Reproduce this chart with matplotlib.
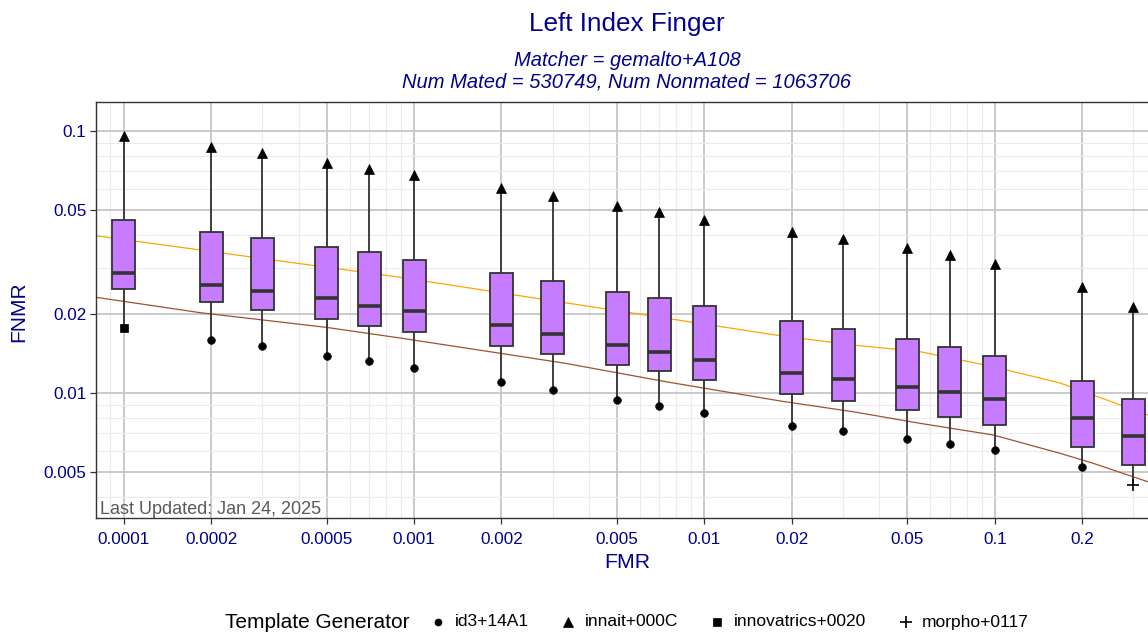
import numpy as np
import matplotlib
matplotlib.use("Agg")
import matplotlib.pyplot as plt
from matplotlib.patches import Rectangle
from matplotlib.lines import Line2D
from matplotlib.ticker import FixedLocator, NullFormatter, LogLocator

# ---------------- data ----------------
fmr = [0.0001, 0.0002, 0.0003, 0.0005, 0.0007, 0.001, 0.002, 0.003, 0.005,
       0.007, 0.01, 0.02, 0.03, 0.05, 0.07, 0.1, 0.2, 0.3]
fnmr_max = [0.0954, 0.0864, 0.0820, 0.0755, 0.0714, 0.0677, 0.0603, 0.0565, 0.0515,
            0.0488, 0.0457, 0.0412, 0.0385, 0.0356, 0.0334, 0.0309, 0.0254, 0.0213]
fnmr_q3 = [0.0457, 0.0412, 0.0391, 0.0361, 0.0344, 0.0322, 0.0286, 0.0268, 0.0242,
           0.0229, 0.0214, 0.0187, 0.0175, 0.0160, 0.0150, 0.0138, 0.0111, 0.00944]
fnmr_med = [0.0287, 0.0258, 0.0245, 0.0229, 0.0215, 0.0205, 0.0182, 0.0168, 0.0152,
            0.0143, 0.0133, 0.0119, 0.0113, 0.0105, 0.0101, 0.00946, 0.00798, 0.00685]
fnmr_q1 = [0.0249, 0.0221, 0.0207, 0.0191, 0.0180, 0.0171, 0.0151, 0.0141, 0.0128,
           0.0121, 0.0112, 0.00989, 0.00932, 0.00859, 0.00810, 0.00755, 0.00622, 0.00530]
fnmr_min = [0.01766, 0.0159, 0.0151, 0.0138, 0.0132, 0.0124, 0.0110, 0.0102, 0.00938,
            0.0089, 0.00834, 0.00746, 0.00714, 0.00666, 0.00637, 0.00604, 0.00522, 0.00444]
max_generator = ["innait+000C"] * 18
min_generator = ["innovatrics+0020"] + ["id3+14A1"] * 16 + ["morpho+0117"]

orange_fmr = [8.05e-5, 8.96e-4, 0.003316, 0.01822, 0.0325, 0.05527, 0.0986, 0.1677, 0.2178, 0.3369, 0.37]
orange_fnmr = [0.0397, 0.02757, 0.02205, 0.01650, 0.01521, 0.01434, 0.01257, 0.01089, 0.00980, 0.00822, 0.0079]
brown_fmr = [8.05e-5, 1.837e-4, 4.985e-4, 8.96e-4, 0.00198, 0.003316, 0.007381, 0.01822,
             0.0325, 0.05527, 0.0986, 0.1677, 0.2178, 0.3369, 0.37]
brown_fnmr = [0.02312, 0.0202, 0.01776, 0.01617, 0.01414, 0.01295, 0.01101, 0.0093,
              0.00846, 0.00764, 0.0069, 0.00587, 0.00538, 0.00457, 0.00440]

x_ticks = [0.0001, 0.0002, 0.0005, 0.001, 0.002, 0.005, 0.01, 0.02, 0.05, 0.1, 0.2]
x_labels = ["0.0001", "0.0002", "0.0005", "0.001", "0.002", "0.005", "0.01", "0.02", "0.05", "0.1", "0.2"]
y_ticks = [0.005, 0.01, 0.02, 0.05, 0.1]
y_labels = ["0.005", "0.01", "0.02", "0.05", "0.1"]

generators = ["id3+14A1", "innait+000C", "innovatrics+0020", "morpho+0117"]
gen_markers = {"id3+14A1": "o", "innait+000C": "^", "innovatrics+0020": "s", "morpho+0117": "+"}

# ---------------- figure ----------------
plt.rcParams['font.family'] = ['Liberation Sans', 'DejaVu Sans']
W, H = 1148, 633
fig = plt.figure(figsize=(W / 100, H / 100), dpi=100)

ax_l, ax_r, ax_t, ax_b = 96, 1158, 102, 518
ax = fig.add_axes([ax_l / W, 1 - ax_b / H, (ax_r - ax_l) / W, (ax_b - ax_t) / H])
ax.set_xscale('log')
ax.set_yscale('log')
ax.set_xlim(8.03e-5, 0.3646)
ax.set_ylim(0.003325, 0.1287)

blue = '#00008B'
edge = '#333333'

ax.xaxis.set_major_locator(FixedLocator(x_ticks))
ax.set_xticklabels(x_labels)
ax.xaxis.set_minor_locator(LogLocator(base=10, subs=np.arange(1, 10), numticks=50))
ax.xaxis.set_minor_formatter(NullFormatter())
ax.yaxis.set_major_locator(FixedLocator(y_ticks))
ax.set_yticklabels(y_labels)
ax.yaxis.set_minor_locator(LogLocator(base=10, subs=np.arange(1, 10), numticks=50))
ax.yaxis.set_minor_formatter(NullFormatter())

ax.grid(which='major', color='#C6C6C6', linewidth=1.3, zorder=0)
ax.grid(which='minor', color='#EBEBEB', linewidth=0.8, zorder=0)
ax.set_axisbelow(True)
ax.tick_params(which='major', length=4, width=0.9, color=edge, labelsize=12.3,
               labelcolor=blue)
ax.tick_params(axis='x', which='major', pad=6)
ax.tick_params(axis='y', which='major', pad=3)
ax.tick_params(which='minor', length=0)
for side in ['left', 'top', 'bottom']:
    ax.spines[side].set_color(edge)
    ax.spines[side].set_linewidth(1.0)
ax.spines['right'].set_visible(False)

# reference lines (behind boxes)
ax.plot(orange_fmr, orange_fnmr, color='#FFA500', linewidth=0.9, zorder=2)
ax.plot(brown_fmr, brown_fnmr, color='#A0522D', linewidth=0.9, zorder=2)

# boxes
hw = 0.0396  # half width in decades
for i, x in enumerate(fmr):
    xl = x * 10 ** (-hw)
    xr = x * 10 ** (hw)
    ax.plot([x, x], [fnmr_q3[i], fnmr_max[i]], color=edge, linewidth=1.3, zorder=3)
    ax.plot([x, x], [fnmr_q1[i], fnmr_min[i]], color=edge, linewidth=1.3, zorder=3)
    ax.add_patch(Rectangle((xl, fnmr_q1[i]), xr - xl, fnmr_q3[i] - fnmr_q1[i],
                           facecolor='#C77CFF', edgecolor=edge, linewidth=1.3, zorder=4))
    ax.plot([xl, xr], [fnmr_med[i], fnmr_med[i]], color=edge, linewidth=2.6,
            solid_capstyle='butt', zorder=5)
    for val, g in ((fnmr_max[i], max_generator[i]), (fnmr_min[i], min_generator[i])):
        m = gen_markers[g]
        ms = {'o': 5.5, '^': 7, 's': 6, '+': 8}[m]
        ax.plot([x], [val], marker=m, markersize=ms, color='black',
                markeredgewidth=1.2 if m == '+' else 0.5, linestyle='none', zorder=6)

fig.text(100 / W, 1 - 509 / H, "Last Updated: Jan 24, 2025",
         fontsize=13, color='#5A5A5A', ha='left', va='center')

# titles
fig.text(627 / W, 1 - 24 / H, "Left Index Finger", fontsize=18.8, color=blue,
         ha='center', va='center')
fig.text(627 / W, 1 - 61 / H, "Matcher = gemalto+A108", fontsize=14.5, color=blue,
         ha='center', va='center', style='italic')
fig.text(627 / W, 1 - 82 / H, "Num Mated = 530749, Num Nonmated = 1063706", fontsize=14.5,
         color=blue, ha='center', va='center', style='italic')
fig.text(627 / W, 1 - 563 / H, "FMR", fontsize=15.3, color=blue, ha='center', va='center')
fig.text(18.5 / W, 1 - 312 / H, "FNMR", fontsize=15, color=blue, ha='center', va='center',
         rotation=90)

# legend (manual layout, centred like ggplot's bottom legend)
ly = 1 - 622 / H
renderer = fig.canvas.get_renderer()
title_t = fig.text(0, ly, "Template Generator", fontsize=15, color='black', ha='left', va='center')
label_ts = [fig.text(0, ly, g, fontsize=12.5, color='black', ha='left', va='center')
            for g in generators]
title_w = title_t.get_window_extent(renderer).width
label_w = [t.get_window_extent(renderer).width for t in label_ts]
gap_title, key_w, key_gap, item_gap = 20, 17, 8, 31
total = title_w + gap_title + sum(key_w + key_gap + w for w in label_w) + item_gap * (len(generators) - 1)
x0 = 627 - total / 2
title_t.set_x(x0 / W)
cx = x0 + title_w + gap_title
for g, t, w in zip(generators, label_ts, label_w):
    m = gen_markers[g]
    ms = {'o': 5, '^': 6.5, 's': 5.5, '+': 9}[m]
    fig.add_artist(Line2D([(cx + key_w / 2) / W], [ly], marker=m, markersize=ms, color='black',
                          markeredgewidth=1.2 if m == '+' else 0.5, linestyle='none',
                          transform=fig.transFigure))
    t.set_x((cx + key_w + key_gap) / W)
    cx += key_w + key_gap + w + item_gap

fig.savefig("out.png", dpi=100)
